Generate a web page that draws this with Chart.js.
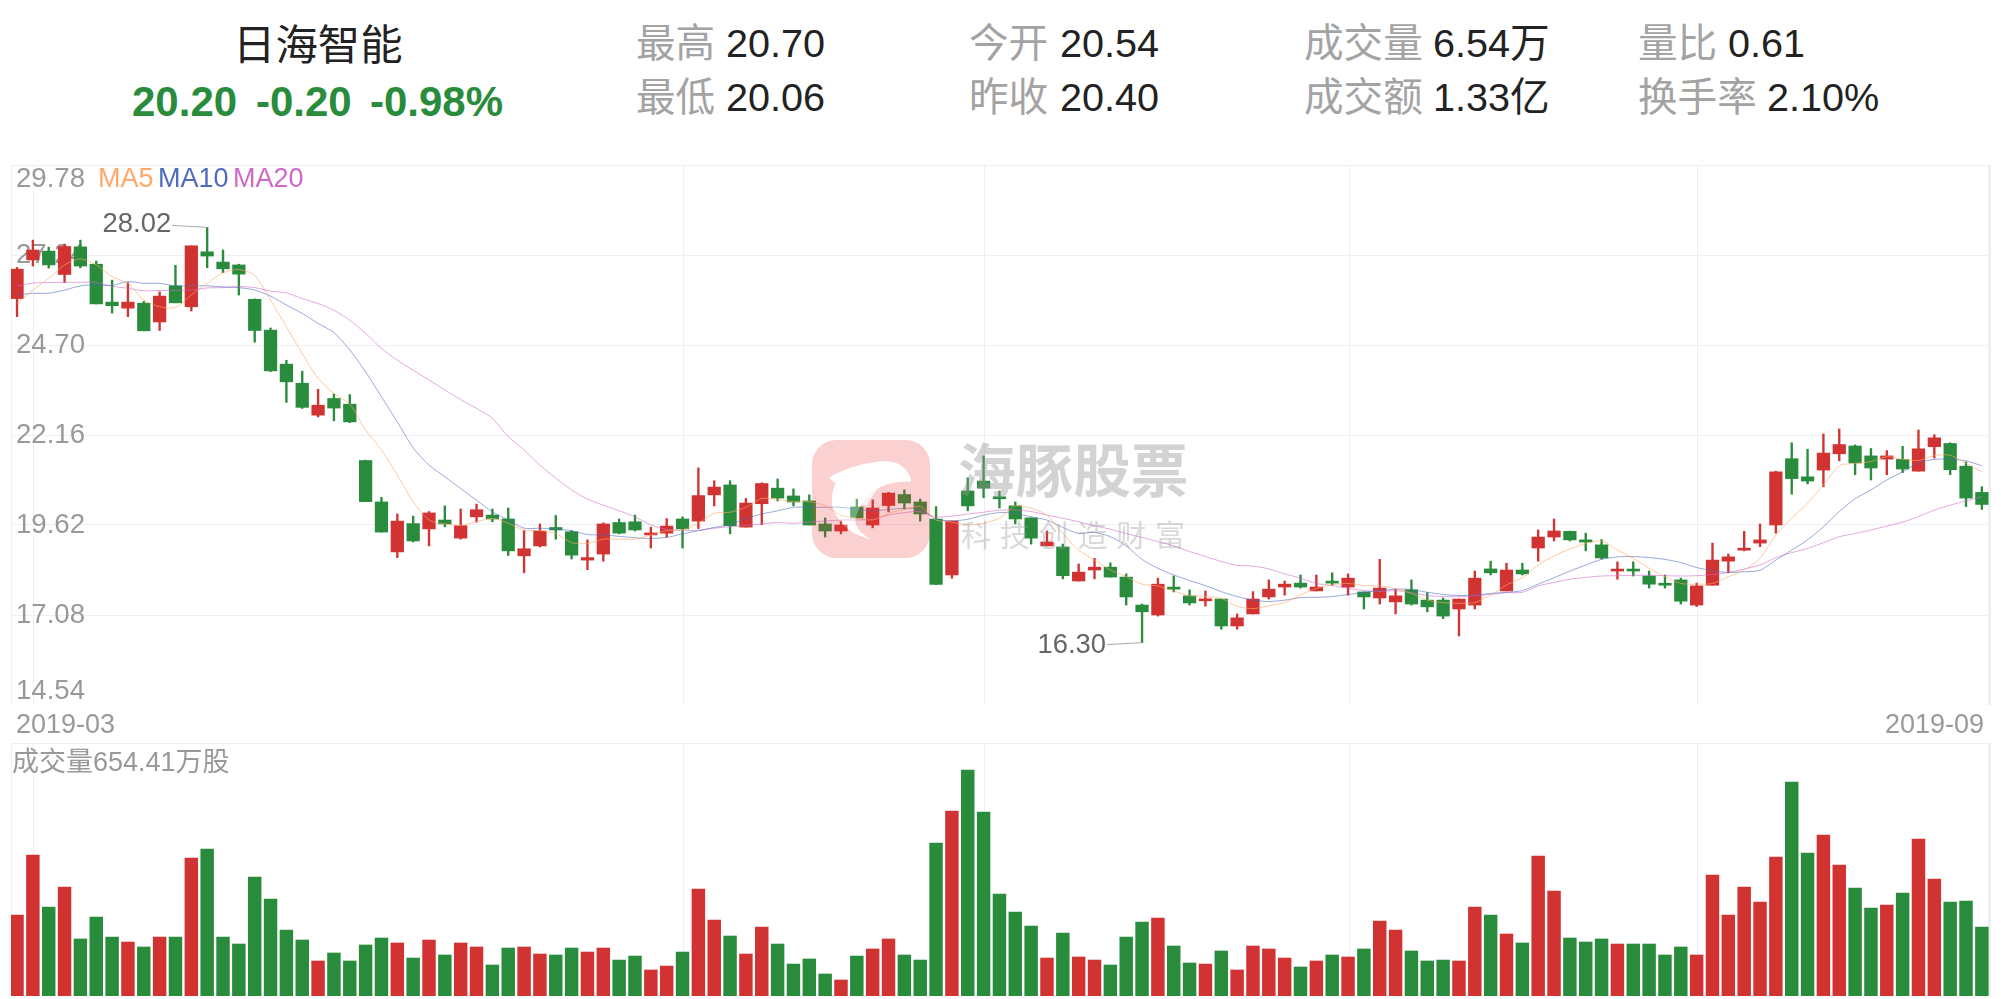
<!DOCTYPE html>
<html>
<head>
<meta charset="utf-8">
<title>日海智能</title>
<script src="https://cdn.jsdelivr.net/npm/chart.js@4"></script>
<style>
html, body { margin: 0; padding: 0; background: #fff; }
body { width: 2001px; height: 999px; position: relative; overflow: hidden; font-family: "Liberation Sans", "Noto Sans CJK SC", sans-serif; }
canvas { position: absolute; left: 0; }
.t { position: absolute; white-space: pre; }
.lab { font-size: 39.6px; line-height: 48px; color: #a3a3a3; }
.val { font-size: 39.6px; line-height: 48px; color: #222; }
.chg { font-size: 42px; line-height: 48px; color: #288c3c; font-weight: bold; top: 78px; }
.ax { font-size: 27px; line-height: 32px; color: #999; }
</style>
</head>
<body>
<div class="t" style="left:233px;top:22px;font-size:42.4px;line-height:48px;color:#222;">日海智能</div>
<div class="t chg" style="left:132px;">20.20</div>
<div class="t chg" style="left:256px;">-0.20</div>
<div class="t chg" style="left:370px;">-0.98%</div>

<div class="t lab" style="left:636px;top:19px;">最高</div><div class="t val" style="left:726px;top:19px;">20.70</div>
<div class="t lab" style="left:636px;top:73px;">最低</div><div class="t val" style="left:726px;top:73px;">20.06</div>
<div class="t lab" style="left:969px;top:19px;">今开</div><div class="t val" style="left:1060px;top:19px;">20.54</div>
<div class="t lab" style="left:969px;top:73px;">昨收</div><div class="t val" style="left:1060px;top:73px;">20.40</div>
<div class="t lab" style="left:1304px;top:19px;">成交量</div><div class="t val" style="left:1433px;top:19px;">6.54万</div>
<div class="t lab" style="left:1304px;top:73px;">成交额</div><div class="t val" style="left:1433px;top:73px;">1.33亿</div>
<div class="t lab" style="left:1638px;top:19px;">量比</div><div class="t val" style="left:1728px;top:19px;">0.61</div>
<div class="t lab" style="left:1638px;top:73px;">换手率</div><div class="t val" style="left:1767px;top:73px;">2.10%</div>

<canvas id="priceChart" width="2001" height="570" style="top:150px;"></canvas>
<canvas id="volumeChart" width="2001" height="264" style="top:735px;"></canvas>

<div class="t ax" id="date0" style="left:16px;top:708px;"></div>
<div class="t ax" id="date1" style="right:17px;top:708px;"></div>
<div class="t ax" style="left:98px;top:162px;color:#ffa868;">MA5</div>
<div class="t ax" style="left:158px;top:162px;color:#4f6bc0;">MA10</div>
<div class="t ax" style="left:233px;top:162px;color:#cf69c9;">MA20</div>
<div class="t ax" style="left:12px;top:746px;">成交量654.41万股</div>

<svg style="position:absolute;left:812px;top:440px;pointer-events:none;" width="118" height="118" viewBox="0 0 348 348">
  <path fill="rgb(240,60,60)" fill-opacity="0.24" fill-rule="evenodd" d="M72 0H276A72 72 0 0 1 348 72V276A72 72 0 0 1 276 348H72A72 72 0 0 1 0 276V72A72 72 0 0 1 72 0Z M50 111 C80 95 130 70 205 63 C240 60 270 70 287 103 C292 112 293 118 292 124 C270 120 235 125 205 137 C165 155 135 195 128 235 C127 258 145 278 174 292 C130 285 85 255 65 210 C55 185 57 155 70 128 Z"/>
  <path fill="#fff" fill-opacity="0.3" d="M50 111 C80 95 130 70 205 63 C240 60 270 70 287 103 C292 112 293 118 292 124 C270 120 235 125 205 137 C165 155 135 195 128 235 C127 258 145 278 174 292 C130 285 85 255 65 210 C55 185 57 155 70 128 Z"/>
  <path fill="#fff" fill-opacity="0.75" d="M135 190 C150 165 175 148 195 143 C180 160 172 175 160 195 C150 190 142 188 135 190 Z"/>
</svg>
<div class="t" style="left:958px;top:440px;font-size:57.6px;line-height:64px;font-weight:bold;color:rgba(150,150,150,0.42);pointer-events:none;">海豚股票</div>
<div class="t" style="left:961px;top:518px;font-size:30px;line-height:36px;letter-spacing:8.8px;color:rgba(150,150,150,0.36);pointer-events:none;">科技创造财富</div>

<script>
// daily candles, one entry per trading day
var openPrices = [26.01,27.10,27.35,26.69,27.47,26.98,25.91,25.74,25.88,25.35,26.37,25.78,27.33,27.04,26.96,25.99,25.12,24.16,23.62,22.72,23.19,23.03,21.44,20.27,18.86,19.66,19.51,19.76,19.25,19.85,19.90,19.79,18.75,19.03,19.55,19.43,18.63,18.80,19.69,19.71,19.34,19.39,19.79,19.73,20.47,20.75,19.56,20.22,20.66,20.44,20.30,19.65,19.45,20.13,19.62,20.17,20.48,20.27,19.79,18.21,20.58,20.86,20.40,20.16,19.82,19.03,19.00,18.04,18.35,18.43,18.15,17.36,17.08,17.85,17.62,17.48,17.53,16.77,17.11,17.59,17.87,17.98,17.76,18.00,17.87,17.73,17.56,17.45,17.79,17.50,17.50,17.25,17.36,18.38,17.76,18.35,18.97,19.28,19.44,19.20,19.06,18.32,18.35,18.18,17.95,18.07,17.36,17.92,18.60,18.91,19.11,19.62,21.49,20.98,21.17,21.63,21.85,21.57,21.48,21.47,21.14,21.83,21.92,21.28,20.54];
var closePrices = [26.84,27.38,26.96,27.48,26.93,25.86,25.81,25.91,25.10,26.08,25.89,27.50,27.21,26.85,26.70,25.11,23.97,23.66,22.94,23.00,22.92,22.53,20.28,19.42,19.73,19.17,19.96,19.65,19.60,20.05,19.79,18.89,18.95,19.45,19.48,18.77,18.70,19.65,19.39,19.48,19.39,19.59,19.51,20.45,20.69,19.60,20.24,20.79,20.38,20.27,19.62,19.45,19.62,19.82,20.10,20.52,20.24,19.93,17.94,19.73,20.16,20.66,20.36,19.79,19.25,19.14,18.19,18.29,18.43,18.15,17.59,17.17,17.95,17.81,17.42,17.53,16.77,17.00,17.53,17.81,17.95,17.87,17.87,17.98,18.12,17.59,17.84,17.62,17.39,17.31,17.05,17.53,18.12,18.27,18.35,18.24,19.28,19.45,19.20,19.14,18.69,18.34,18.32,17.95,17.92,17.47,17.90,18.63,18.72,18.95,19.20,21.12,20.93,20.86,21.65,21.89,21.37,21.23,21.57,21.20,21.77,22.08,21.18,20.38,20.20];
var highPrices = [26.89,27.66,27.46,27.55,27.66,27.07,26.53,26.46,25.93,26.20,26.95,27.50,28.02,27.38,26.98,26.00,25.18,24.27,23.96,23.45,23.32,23.30,21.45,20.40,19.93,19.87,20.00,20.16,20.07,20.21,20.07,20.10,19.46,19.65,19.89,19.46,19.20,19.68,19.79,19.90,19.56,19.80,19.85,21.23,20.87,20.87,20.37,20.81,20.92,20.64,20.47,19.82,19.73,20.35,20.33,20.54,20.61,20.35,20.14,19.73,20.95,21.57,20.58,20.27,19.82,19.45,19.08,18.52,18.68,18.55,18.24,17.39,18.12,18.18,17.79,17.76,17.53,17.11,17.74,18.07,18.04,18.21,18.21,18.27,18.24,17.73,18.65,17.81,18.07,17.71,17.56,17.53,18.32,18.60,18.54,18.54,19.48,19.79,19.45,19.39,19.21,18.58,18.58,18.32,18.21,18.12,17.98,19.11,18.80,19.44,19.65,21.14,21.94,21.76,22.19,22.33,21.88,21.78,21.72,21.84,22.30,22.17,21.94,21.40,20.70];
var lowPrices = [25.50,26.93,26.87,26.46,26.88,25.86,25.60,25.50,25.10,25.11,25.89,25.66,26.88,26.74,26.11,24.78,23.95,23.08,22.91,22.67,22.56,22.51,20.28,19.42,18.70,19.14,19.03,19.57,19.22,19.70,19.71,18.76,18.27,19.00,19.22,18.66,18.36,18.60,19.37,19.45,18.97,19.28,18.97,19.52,20.16,19.37,19.56,19.63,20.30,20.16,19.62,19.28,19.37,19.82,19.54,19.99,20.07,19.73,17.94,18.12,20.02,20.39,20.10,19.65,19.08,19.03,18.10,18.04,18.10,18.15,17.36,16.30,17.05,17.73,17.36,17.33,16.68,16.68,17.11,17.53,17.64,17.84,17.76,17.92,17.64,17.25,17.39,17.11,17.36,17.17,16.98,16.49,17.25,18.21,17.76,18.21,18.60,19.17,19.17,18.89,18.66,18.09,18.18,17.84,17.84,17.39,17.32,17.92,18.27,18.89,19.01,19.39,20.49,20.78,20.70,21.43,21.04,20.89,21.04,21.10,21.14,21.51,21.04,20.14,20.06];

// moving averages
var ma5 = [25.88,26.25,26.58,26.96,27.13,26.96,26.63,26.44,25.97,25.78,25.76,26.11,26.44,26.74,26.83,26.67,25.97,25.21,24.46,23.76,23.33,23.03,22.30,21.74,21.03,20.28,19.76,19.65,19.61,19.71,19.81,19.67,19.48,19.46,19.38,19.12,19.10,19.22,19.22,19.22,19.34,19.46,19.48,19.67,19.95,19.98,20.12,20.37,20.34,20.28,20.28,20.16,19.90,19.81,19.76,19.95,20.06,20.14,19.76,19.70,19.62,19.67,19.81,20.16,20.09,19.90,19.38,18.91,18.63,18.35,18.16,17.95,17.90,17.76,17.62,17.60,17.55,17.32,17.26,17.34,17.43,17.64,17.83,17.93,17.97,17.91,17.90,17.82,17.69,17.50,17.43,17.41,17.43,17.64,17.93,18.13,18.49,18.75,18.94,19.10,19.17,18.91,18.68,18.40,18.16,17.97,17.95,17.97,18.16,18.35,18.68,19.34,19.81,20.23,20.75,21.29,21.36,21.41,21.55,21.48,21.44,21.58,21.59,21.36,21.12];
var ma10 = [26.11,26.16,26.16,26.25,26.37,26.40,26.38,26.49,26.44,26.44,26.37,26.37,26.37,26.34,26.32,26.25,26.08,25.83,25.59,25.31,25.05,24.56,23.94,23.24,22.53,21.80,21.31,20.98,20.65,20.32,19.99,19.76,19.53,19.53,19.50,19.46,19.35,19.34,19.30,19.26,19.24,19.27,19.37,19.46,19.55,19.63,19.80,19.93,20.02,20.12,20.12,20.12,20.12,20.06,20.02,20.06,20.09,20.06,19.78,19.74,19.78,19.90,19.97,19.95,19.85,19.76,19.55,19.38,19.41,19.29,19.03,18.65,18.40,18.21,18.05,17.91,17.74,17.60,17.50,17.46,17.50,17.57,17.58,17.60,17.66,17.72,17.77,17.81,17.80,17.72,17.66,17.63,17.64,17.69,17.72,17.77,17.95,18.13,18.32,18.49,18.65,18.72,18.73,18.70,18.65,18.56,18.42,18.33,18.28,18.30,18.34,18.63,18.91,19.20,19.57,20.00,20.36,20.61,20.89,21.12,21.38,21.47,21.48,21.43,21.29];
var ma20 = [26.36,26.45,26.46,26.47,26.47,26.47,26.36,26.30,26.23,26.24,26.24,26.25,26.31,26.32,26.35,26.32,26.22,26.17,26.01,25.87,25.68,25.40,25.03,24.60,24.27,23.99,23.71,23.43,23.16,22.91,22.63,22.11,21.74,21.31,20.94,20.61,20.35,20.18,20.02,19.85,19.62,19.50,19.47,19.47,19.53,19.57,19.61,19.65,19.69,19.67,19.70,19.73,19.76,19.76,19.78,19.90,19.97,20.00,19.85,19.87,19.93,19.98,20.04,20.04,20.00,19.90,19.81,19.71,19.60,19.50,19.38,19.27,19.15,19.03,18.87,18.73,18.59,18.48,18.46,18.38,18.24,18.12,17.97,17.91,17.83,17.77,17.74,17.77,17.71,17.63,17.60,17.60,17.63,17.66,17.71,17.72,17.90,18.00,18.09,18.14,18.18,18.19,18.20,18.20,18.19,18.18,18.19,18.22,18.28,18.38,18.49,18.70,18.84,18.96,19.12,19.29,19.38,19.48,19.59,19.70,19.86,20.04,20.18,20.30,20.42];

// volume in 万股
var volumes = [768,1337,844,1034,541,749,559,512,465,559,559,1309,1394,559,493,1128,920,626,531,332,408,332,484,550,503,360,531,389,503,465,294,455,465,398,389,455,417,455,341,379,247,284,417,1015,721,569,398,654,493,303,351,209,152,379,446,541,389,341,1451,1754,2143,1745,967,797,664,360,597,370,341,294,559,702,740,474,313,303,427,247,474,446,360,275,332,389,370,446,711,626,427,332,341,332,844,768,588,503,1328,996,550,512,541,493,493,493,389,465,389,1147,768,1034,891,1318,2029,1356,1527,1242,1024,834,863,977,1489,1110,891,901,654.41];

var priceTicks = [29.78,27.24,24.70,22.16,19.62,17.08,14.54];
var monthStarts = [1,42,61,84,106];
var dateLabels = ['2019-03','2019-09'];

document.getElementById('date0').textContent = dateLabels[0];
document.getElementById('date1').textContent = dateLabels[1];

var RED = '#d13232';
var GREEN = '#288c3c';
var GRID = '#eeeef6';
var xMin = -0.38;
var xMax = 124.45;

function candleColor(i) {
    return closePrices[i] >= openPrices[i] ? RED : GREEN;
}

function xAxis() {
    return {
        type: 'linear',
        min: xMin,
        max: xMax,
        offset: false,
        afterBuildTicks: function (scale) {
            var vals = [xMin].concat(monthStarts.map(function (v) { return v + 0.07; }), [xMax]);
            scale.ticks = vals.map(function (v) { return { value: v }; });
        },
        ticks: { display: false },
        border: { display: false },
        grid: {
            offset: false,
            color: GRID,
            drawTicks: false,
            lineWidth: function (ctx) { return ctx.tick && ctx.tick.value === xMax ? 3 : 1; }
        }
    };
}

function lineSet(values, color) {
    return {
        type: 'line',
        data: values.map(function (v, i) { return { x: i, y: v }; }),
        borderColor: color,
        borderWidth: 1,
        pointRadius: 0,
        tension: 0.25,
        order: 0
    };
}

// axis numbers sit under the candles, and the high/low notes go on top
var priceLabels = {
    id: 'priceLabels',
    beforeDatasetsDraw: function (chart) {
        var c = chart.ctx, y = chart.scales.y;
        c.save();
        c.font = '27.6px "Liberation Sans"';
        c.fillStyle = '#999';
        priceTicks.forEach(function (t, i) {
            var off = i === 0 ? 22 : (i === priceTicks.length - 1 ? -6 : 8);
            c.fillText(t.toFixed(2), 16, y.getPixelForValue(t) + off);
        });
        c.restore();
    },
    afterDatasetsDraw: function (chart) {
        var c = chart.ctx, x = chart.scales.x, y = chart.scales.y;
        var hi = Math.max.apply(null, highPrices), lo = Math.min.apply(null, lowPrices);
        var px = x.getPixelForValue(highPrices.indexOf(hi)), py = y.getPixelForValue(hi);
        var qx = x.getPixelForValue(lowPrices.indexOf(lo)), qy = y.getPixelForValue(lo);
        c.save();
        c.font = '27.4px "Liberation Sans"';
        c.fillStyle = '#666';
        c.textAlign = 'right';
        c.fillText(hi.toFixed(2), px - 36, py + 5);
        c.fillText(lo.toFixed(2), qx - 36, qy + 10);
        c.strokeStyle = '#aaa';
        c.lineWidth = 1;
        c.beginPath();
        c.moveTo(px - 35, py - 2);
        c.lineTo(px, py);
        c.moveTo(qx - 35, qy + 2);
        c.lineTo(qx, qy);
        c.stroke();
        c.restore();
    }
};

new Chart(document.getElementById('priceChart').getContext('2d'), {
    type: 'bar',
    data: {
        datasets: [
            lineSet(ma5, 'rgba(255,168,104,0.62)'),
            lineSet(ma10, 'rgba(79,107,192,0.58)'),
            lineSet(ma20, 'rgba(207,105,201,0.58)'),
            {
                data: openPrices.map(function (o, i) { return { x: i, y: [o, closePrices[i]] }; }),
                backgroundColor: openPrices.map(function (o, i) { return candleColor(i); }),
                barThickness: 12.6,
                minBarLength: 2,
                grouped: false,
                order: 1
            },
            {
                data: lowPrices.map(function (l, i) { return { x: i, y: [l, highPrices[i]] }; }),
                backgroundColor: lowPrices.map(function (l, i) { return candleColor(i); }),
                barThickness: 1.7,
                grouped: false,
                order: 2
            }
        ]
    },
    options: {
        responsive: false,
        animation: false,
        devicePixelRatio: 1,
        layout: { padding: { left: 11, right: 12, top: 15, bottom: 15 } },
        plugins: { legend: { display: false }, tooltip: { enabled: false } },
        scales: {
            x: xAxis(),
            y: {
                min: 14.54,
                max: 29.78,
                afterBuildTicks: function (scale) {
                    scale.ticks = priceTicks.map(function (v) { return { value: v }; });
                },
                ticks: { display: false },
                border: { display: false },
                grid: {
                    drawTicks: false,
                    // no line along the bottom of the price panel
                    color: function (ctx) { return ctx.tick && ctx.tick.value === 14.54 ? 'rgba(0,0,0,0)' : GRID; }
                }
            }
        }
    },
    plugins: [priceLabels]
});

new Chart(document.getElementById('volumeChart').getContext('2d'), {
    type: 'bar',
    data: {
        datasets: [{
            data: volumes.map(function (v, i) { return { x: i, y: v }; }),
            backgroundColor: volumes.map(function (v, i) { return candleColor(i); }),
            barThickness: 12.8
        }]
    },
    options: {
        responsive: false,
        animation: false,
        devicePixelRatio: 1,
        layout: { padding: { left: 11, right: 12, top: 8, bottom: 3 } },
        plugins: { legend: { display: false }, tooltip: { enabled: false } },
        scales: {
            x: xAxis(),
            y: {
                min: 0,
                max: 2400,
                afterBuildTicks: function (scale) {
                    scale.ticks = [{ value: 2400 }];
                },
                ticks: { display: false },
                border: { display: false },
                grid: { color: GRID, drawTicks: false }
            }
        }
    }
});
</script>
</body>
</html>
